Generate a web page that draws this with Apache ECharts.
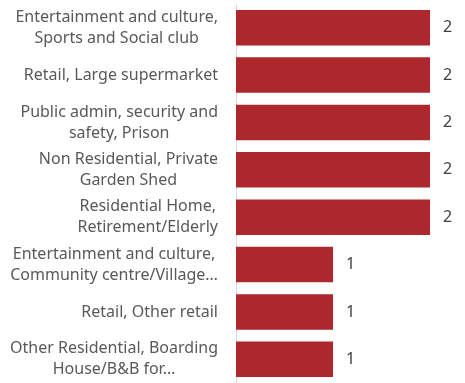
<!DOCTYPE html>
<html><head><meta charset="utf-8">
<script src="https://cdn.jsdelivr.net/npm/echarts@6/dist/echarts.min.js"></script>
<style>html,body{margin:0;padding:0;background:#fff}#c{width:465px;height:383px}</style>
</head><body><div id="c"></div>
<script>
const categories = [
  "Entertainment and culture,\nSports and Social club",
  "Retail, Large supermarket",
  "Public admin, security and\nsafety, Prison",
  "Non Residential, Private\nGarden Shed",
  "Residential Home,\nRetirement/Elderly",
  "Entertainment and culture,\nCommunity centre/Village…",
  "Retail, Other retail",
  "Other Residential, Boarding\nHouse/B&B for…"
];
const values = [2, 2, 2, 2, 2, 1, 1, 1];

const chart = echarts.init(document.getElementById('c'));
chart.setOption({
  animation: false,
  grid: { left: 236, right: 35, top: 4, bottom: -4, containLabel: false },
  xAxis: { type: 'value', min: 0, max: 2, show: false },
  yAxis: {
    type: 'category', data: categories, inverse: true,
    axisLine: { show: true, lineStyle: { color: '#d9d9d9', width: 1 } },
    axisTick: { show: false },
    axisLabel: {
      margin: 18, align: 'right',
      formatter: v => v.split('\n').map(s => '{a|' + s + '}').join('\n'),
      rich: { a: { color: '#595959', fontFamily: 'Noto Sans', fontSize: 16, lineHeight: 21, align: 'center' } }
    }
  },
  series: [{
    type: 'bar', data: values, barCategoryGap: '25%',
    itemStyle: { color: '#AD282C' },
    label: { show: true, position: 'right', distance: 13, color: '#404040', fontFamily: 'Noto Sans', fontSize: 16 }
  }]
});
</script></body></html>
